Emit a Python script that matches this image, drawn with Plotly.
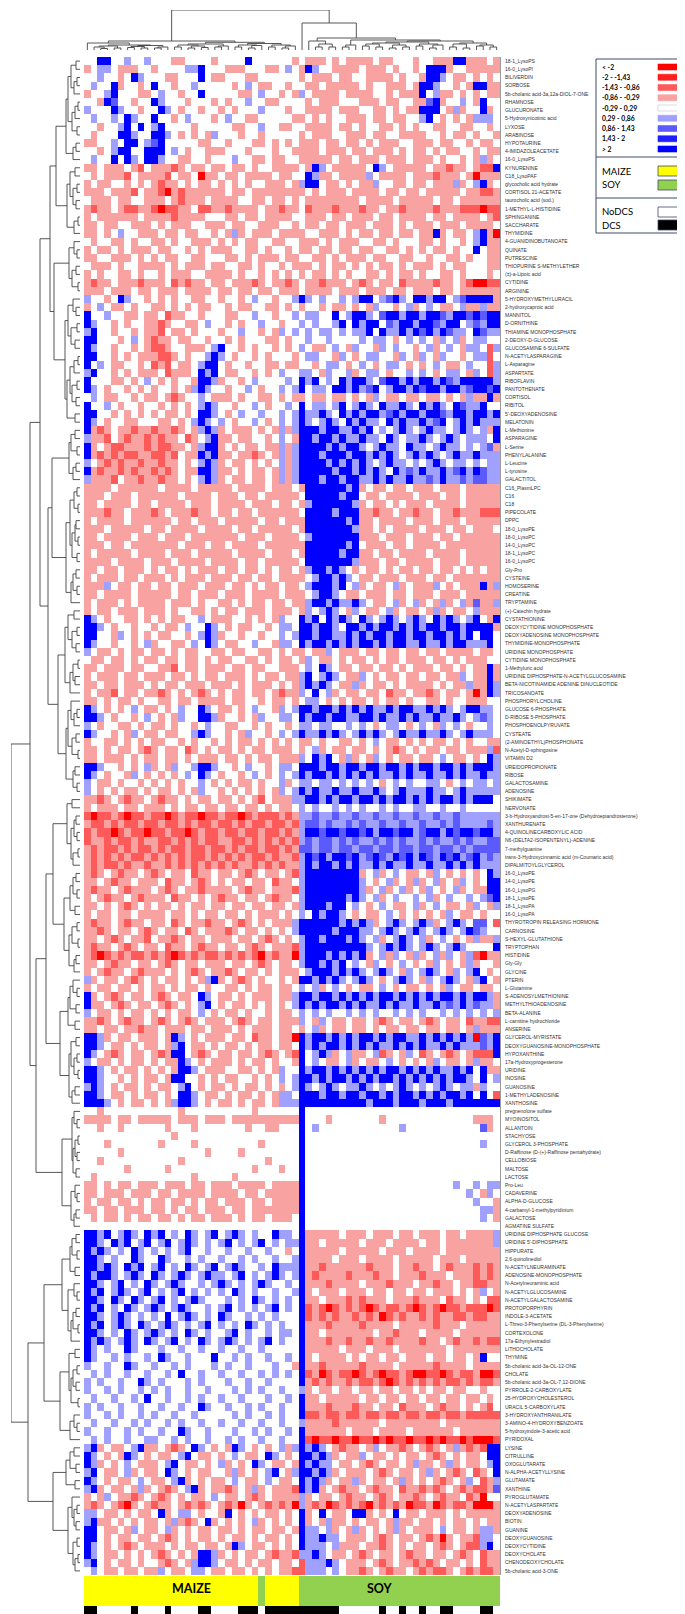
"""
Heatmap metabolit MAIZE vs SOY (z-score) dengan dendrogram baris dan kolom.
Output: out.html
"""
import plotly.graph_objects as go

W, H = 685, 1614

ROW_LABELS = [
    "18-1_LysoPS", "16-0_LysoPI", "BILIVERDIN", "SORBOSE", "5b-cholanic acid-3a,12a-DIOL-7-ONE",
    "RHAMNOSE", "GLUCURONATE", "5-Hydroxynicotinic acid", "LYXOSE", "ARABINOSE",
    "HYPOTAURINE", "4-IMIDAZOLEACETATE", "16-0_LysoPS", "KYNURENINE", "C18_LysoPAF",
    "glycocholic acid hydrate", "CORTISOL 21-ACETATE", "taurocholic acid (sod.)", "1-METHYL-L-HISTIDINE", "SPHINGANINE",
    "SACCHARATE", "THYMIDINE", "4-GUANIDINOBUTANOATE", "QUINATE", "PUTRESCINE",
    "THIOPURINE S-METHYLETHER", "(\u00b1)-a-Lipoic acid", "CYTIDINE", "ARGININE", "5-HYDROXYMETHYLURACIL",
    "2-hydroxycaproic acid", "MANNITOL", "D-ORNITHINE", "THIAMINE MONOPHOSPHATE", "2-DEOXY-D-GLUCOSE",
    "GLUCOSAMINE 6-SULFATE", "N-ACETYLASPARAGINE", "L-Asparagine", "ASPARTATE", "RIBOFLAVIN",
    "PANTOTHENATE", "CORTISOL", "RIBITOL", "5'-DEOXYADENOSINE", "MELATONIN",
    "L-Methionine", "ASPARAGINE", "L-Serine", "PHENYLALANINE", "L-Leucine",
    "L-tyrosine", "GALACTITOL", "C16_PlasmLPC", "C16", "C18",
    "PIPECOLATE", "DPPC", "18-0_LysoPE", "18-0_LysoPC", "14-0_LysoPC",
    "18-1_LysoPC", "16-0_LysoPC", "Gly-Pro", "CYSTEINE", "HOMOSERINE",
    "CREATINE", "TRYPTAMINE", "(+)-Catechin hydrate", "CYSTATHIONINE", "DEOXYCYTIDINE MONOPHOSPHATE",
    "DEOXYADENOSINE MONOPHOSPHATE", "THYMIDINE-MONOPHOSPHATE", "URIDINE MONOPHOSPHATE", "CYTIDINE MONOPHOSPHATE", "1-Methyluric acid",
    "URIDINE DIPHOSPHATE-N-ACETYLGLUCOSAMINE", "BETA-NICOTINAMIDE ADENINE DINUCLEOTIDE", "TRICOSANOATE", "PHOSPHORYLCHOLINE", "GLUCOSE 6-PHOSPHATE",
    "D-RIBOSE 5-PHOSPHATE", "PHOSPHOENOLPYRUVATE", "CYSTEATE", "(2-AMINOETHYL)PHOSPHONATE", "N-Acetyl-D-sphingosine",
    "VITAMIN D2", "UREIDOPROPIONATE", "RIBOSE", "GALACTOSAMINE", "ADENOSINE",
    "SHIKIMATE", "NERVONATE", "3-b-Hydroxyandrost-5-en-17-one (Dehydroepiandrosterone)", "XANTHURENATE", "4-QUINOLINECARBOXYLIC ACID",
    "N6-(DELTA2-ISOPENTENYL)-ADENINE", "7-methylguanine", "trans-3-Hydroxycinnamic acid (m-Coumaric acid)", "DIPALMITOYLGLYCEROL", "16-0_LysoPE",
    "14-0_LysoPE", "16-0_LysoPG", "18-1_LysoPE", "18-1_LysoPA", "16-0_LysoPA",
    "THYROTROPIN RELEASING HORMONE", "CARNOSINE", "S-HEXYL-GLUTATHIONE", "TRYPTOPHAN", "HISTIDINE",
    "Gly-Gly", "GLYCINE", "PTERIN", "L-Glutamine", "S-ADENOSYLMETHIONINE",
    "METHYLTHIOADENOSINE", "BETA-ALANINE", "L-carnitine hydrochloride", "ANSERINE", "GLYCEROL-MYRISTATE",
    "DEOXYGUANOSINE-MONOPHOSPHATE", "HYPOXANTHINE", "17a-Hydroxyprogesterone", "URIDINE", "INOSINE",
    "GUANOSINE", "1-METHYLADENOSINE", "XANTHOSINE", "pregnenolone sulfate", "MYOINOSITOL",
    "ALLANTOIN", "STACHYOSE", "GLYCEROL 3-PHOSPHATE", "D-Raffinose (D-(+)-Raffinose pentahydrate)", "CELLOBIOSE",
    "MALTOSE", "LACTOSE", "Pro-Leu", "CADAVERINE", "ALPHA-D-GLUCOSE",
    "4-carbamyl-1-methylpyridinium", "GALACTOSE", "AGMATINE SULFATE", "URIDINE DIPHOSPHATE GLUCOSE", "URIDINE 5'-DIPHOSPHATE",
    "HIPPURATE", "2,6-quinolinediol", "N-ACETYLNEURAMINATE", "ADENOSINE-MONOPHOSPHATE", "N-Acetylneuraminic acid",
    "N-ACETYLGLUCOSAMINE", "N-ACETYLGALACTOSAMINE", "PROTOPORPHYRIN", "INDOLE-3-ACETATE", "L-Threo-3-Phenylserine (DL-3-Phenylserine)",
    "CORTEXOLONE", "17a-Ethynylestradiol", "LITHOCHOLATE", "THYMINE", "5b-cholanic acid-3a-OL-12-ONE",
    "CHOLATE", "5b-cholanic acid-3a-OL-7,12-DIONE", "PYRROLE-2-CARBOXYLATE", "25-HYDROXYCHOLESTEROL", "URACIL 5-CARBOXYLATE",
    "3-HYDROXYANTHRANILATE", "3-AMINO-4-HYDROXYBENZOATE", "5-hydroxyindole-3-acetic acid", "PYRIDOXAL", "LYSINE",
    "CITRULLINE", "OXOGLUTARATE", "N-ALPHA-ACETYLLYSINE", "GLUTAMATE", "XANTHINE",
    "PYROGLUTAMATE", "N-ACETYLASPARTATE", "DEOXYADENOSINE", "BIOTIN", "GUANINE",
    "DEOXYGUANOSINE", "DEOXYCYTIDINE", "DEOXYCHOLATE", "CHENODEOXYCHOLATE", "5b-cholanic acid-3-ONE",
]

# satu string per metabolit (62 sampel, blok 10); kode bin z-score:
# R <-2 | r -2..-1,43 | m -1,43..-0,86 | p -0,86..-0,29 | . netral | q | n | b | B >2
HEAT_ROWS = [
    "..BB..q..q ...pp....p ....B..... .p.ppp.p.p ppp.pp...p ..pppBBppp .p",
    "p.qq.ppp.. p....qqB.. .ppp...pp. q.pBq..ppp p.ppp.p..p .BBBp..ppp pp",
    "..q..p.Bq. ..pp...B.p p...pp.... ..p.ppp.pp ..pppp.p.. pBBq.pp.p. p.",
    ".q..Bp..p. B..p..q... ..p.q.pp.. p..pp.pppp p.p..ppp.p BBq..p.pBB pp",
    "p..qB...pp .q..p..B.. ...pp.q..p .pq.pppp.p ppp..p.ppp B.qpp.p.p. pp",
    "..pBn..p.. Bq...p...p .p..q..pp. ...p.ppp.. .ppp.pp..p pnBp..q.pB ..",
    "q...Bq..p. .Bq.p..p.. p.p...q... p..pppp.pp p..pp.p.pp BBB.pqp..B p.",
    ".q..q.Bq.. B..p.q...p .q..pp.... .pp.p.p..p pp.pp.pp.. qB.p.p.pqq q.",
    "..p..qB.B. qB....p... ..pp..q..p p..pppp.pp .p..pp.p.p ..pp..pp.. p.",
    ".p...BBq.. BBq.p.p.pq ...p..p... ..p.ppp..p pp.pp..ppp p..p.pp.p. .p",
    "pp..q.BB.q nB.....pp. .p...pp.p. p.ppp.pp.p p.p.ppp..p pp.pp..p.p p.",
    "..p.qBB..B BB.q.p..pp p...p...p. .pppp.ppp. pp.ppp.p.p p.p.pp..p. pp",
    ".q..B.Bq.B Bq..pp..p. ..q..pp.pp ..ppppp.pp .ppp.ppp.p pp.p..p.pq p.",
    "pp.ppp.pm. pppmp.pp.p p.pp.p..pp pp.pBq.ppp pp.Bq.pppp p.ppmpp.pm mB",
    ".p.pppm.pp ppm.pp.Rpp .pp.pppp.p p..Bqpp.pp ppq.pppp.p ppmppp.pRp pp",
    "p.pp..p.p. pmpp.p.pp. p.p.p..ppp .pqBB.pp.p .ppq..pp.p p.pppqp.qB p.",
    "ppp.pppm.p pmRpmppppp p.pp.ppppp ppp.p.ppp. pppp.pp.pp .ppppp.ppm mp",
    ".ppp.pp..p pp.pmppp.p ppp..pp.pp .p.ppppppp p.pppp.ppp pp.pp.pppp pp",
    "pmpp.pmmpp mRmmpp.mmp pmpppp.ppm pp.mpppmpp pmpp.ppmpp ppmpppmmmR mm",
    "p.pppppp.p pppmpppp.. .pp.pp.ppp p..ppp.pp. ppp.pp.ppp p.pp.pppp. pm",
    "pp.pp..ppp .p.ppp..pp p.pp..ppp. .p.pp.pp.p pp.ppp.p.p pp.ppp.ppp p.",
    "pp.p.q..pp p.pp.pp..p .pqp.ppp.p ppp..ppp.p .pp.pp.pp. ppBp.pp.qB pR",
    ".p..pp.p.. pp.p..ppp. p.p.pp..pp ..ppp.p.pp p..pp.p... pp.p..p.qB pp",
    "p.pp.p.ppp .pp..p.p.p pp..pp.p.. p.pp.pp.pp .pp..pp.p. p.pp.p..B. pp",
    "pp..ppp.p. p.pp..pp.. .pp.p.ppp. pp..pp.p.p pp.pp..pp. .p..pp.p.. pp",
    ".ppp.p..pp pp.p.ppp.p p..pp.p..p .ppp.p.pp. p.p.pp.p.p pp.p.pp... pp",
    "p.p..pp.p. .p.ppp..pp pp.p..p.p. p.p.pp.p.p ..pp.p.pp. p..pp.p... p.",
    "pmpp.pppmp pp.mpmpp.p p.pppmp.pp mp.ppmppp. pmp.pp.mpp ppmpp.pmRR mm",
    "ppp.ppp.pp .ppp.pppp. pp.pp.pp.p pp.pppp.pp p.ppp.pp.p pp.pp.pppp pp",
    "q..p.Bq..p .p.p..pp.. p..p.q..p. .qBq.q..q. qBB.qnBq.B BqBB.qnBBB Bp",
    "p.q.pp.p.. pp.p.p.pp. .p.pp..pp. p.p..p.pp. p.pq..p.qp .q.pp.qppq pp",
    "B..q..pp.p p.mpp..p.. .pp..q..p. .q.qq..B.q BBq.nBBqBB qBBnqBBnBn BB",
    "Bq..p.p..p pmp..pp.q. .p.p..q..p ..q.q..qB. BqBB.nqBBq BBnqBB.qnq BB",
    "qB..p..p.p pm.pp.p... p..q..p.pq .q.q.qq.q. qqB.BqqBqB nBqBnqq.Bn qq",
    "BB...p.q.p mpp.pp..p. .p.p...pp. p..q..q... .q.qq.p.q. q.pq.qp.qq ..",
    "Bq..p..p.p mmp..ppp.q B..p.p..p. p.q.pp.q.p q..pq.q..p .qp.q.pqq. mq",
    "BB..p.p.pp pmmp.p..qB q.p..p.p.. .p.qq..pq. p.qq..pq.p q.pq..p.qq m.",
    "B.q.pp..p. mpm.pp.qBB .p..p..pp. pp..p.qq.p .q.p.qq.p. p.q.pp.q.. mq",
    "qB..p.p.pp p.mppp.BqB .pp..p.p.q ..qq.pq..q p.qq.p..q. q.p.qq.pq. mq",
    "B...pp.p.q .p.p..pBBq p..p.q.... q.BqB.q.Bq BBq.nBBqBq BBqBnqBBBB Bq",
    "Bq.p..p.p. p..p.pqBq. .p..q.p..q .qB.qq.BBq BqnB.qBBqB nBBqBBqnBB nB",
    ".q.pp..p.p p.pmp..q.p pp.p..pp.p .pp.pp.pp. p.pq.pp.pp .pp.p.pqpp Bp",
    "B..q.p..p. .p.p.p.qBq ..p..q.p.. q.B.qq.qB. qBq.BqqBq. BqBq.BnqqB ..",
    "BB..p.p.p. p.pp.p.BBq .p.q..q..q .qBqqBq.Bq BqBBqnBqBB qBBnqBBqBB qB",
    "Bq.p..pp.. .pp.p.qBq. q.p..q.p.q .qBq.qBq.B qBqq.BqBqq BqnB.qBqBq qq",
    "Bpmp.ppmpp mppmp.pqBq p.ppp.p.pq pqBBBqBBqq BqB.q.qBq. qBqq.qBq.q pB",
    "qppm.pmppm pmpp.mp.qB pp.pp..p.q .pBBqBBqBq qBqq.Bq.qq Bq.qBq.qqq .B",
    "Bp.pmmpppm pmmpp.pqBB p.p.pp.ppq pqBBBBqBqB Bq.qBqq.Bq q.qBqq.q.q np",
    "Bpmpmpmmpp mmpm.ppBqB pp.ppmp.pq pqBBBqBBBq BBqBqBq.qB qBq.qBqqBq qq",
    "q.pmpmppmp pmpp.p.qBq p.pp.p.p.q pqBBBBqBqB qBq.qBqq.q .qBq.qq.q. qq",
    "Bpmppmpmpp mpmp.ppBBq pp.p.pp.pq pqBBBBBqBB qBqBq.Bqnq BqqBqnBqBn qq",
    "qpppm.ppmp pmpp.p.qBq p.pp.pp.pq pqBBBqBBqB BqqBqBqqBq qnqBqqnqnn qq",
    "pppp.ppppp p.pppp.ppp pp.pppp.pp p.pBBBBBBq Bp.pp.pp.p pp.ppp.ppp pp",
    "ppp.ppp.pp pppp.pppp. ppp.pp.ppp pp.BBBBBqB B.pp.pppp. ppp.pp.ppp pp",
    "pp.pppp.pp .pppp.ppp. pppp.ppp.p p.pqBBBBBB qp.pp.p.pp p.pppp.ppp pp",
    "pppmpp.ppp mp.pppmpp. pp.pp.pppp pp.BBBBqBB Bppmpp.ppm pp.ppmpppm mm",
    "p.pppp.ppp ppp.pp.ppp .ppppp.pp. pppBBBBBBq Bpp.pppp.p pp.ppp.ppp pp",
    "ppp.ppppp. pp.pppp.pp pp.pp.pppp p.pBBBBBBB qpp.p.pppp .ppp.pp.pp p.",
    "pp.pppp.pp p.ppp.pppp ppp.ppp.pp pp.qBBBBBB Bppp.ppp.p pp.pp.pppp pp",
    "ppp.pp.ppp pppp.ppp.p p.pppp.ppp pppBBBBBBq B.ppp.pp.p ppp.pppppp pp",
    "p.ppppp.pp pp.ppp.ppp pp.pppp.pp p.pBBBBBqB Bpp.pp.ppp p.pppp.ppp pp",
    "pppp.pppp. ppp.pppp.p ppp.pp.ppp pp.BBBBBBB qppp.pp.pp pp.ppp.ppp pp",
    "pp.pp.ppp. p.pp.p.ppp .pp.pp.p.p p.pqBBqBq. p.pp.p.pp. pp.pp.p.p. pp",
    "p.ppp.pp.p pp.p.ppp.p pp.pp.pp.p ppp.qBBqBq .pp.ppp.pp p.pp.ppppp pp",
    "pppq.pp.pp .pp.ppp.pp p.pp.p.pp. pp.qBBBqB. qp.pp.qp.p ppq.p.pppB pq",
    "pp.pppp.pp ppp.pp.ppp .ppp.pppp. ppp.qBBq.p p.ppp.pp.p pp.ppp.ppp pp",
    "p.ppp.p.pp pp.ppp.p.. pp.p.pp.pp .ppqBBqBqq Bq.pp.qp.q p.pqp.qpnp pq",
    "p.pp.ppp.p pp.p..pp.p .pp.ppp.pp p.pq.qBq.p q.pp.qp.pp .pqp.pp.qp pp",
    "Bq.p..pp.p .p.pp..q.p pp..p.p.pq ..BqB.BqBq .Bq.qBq.qB q.BqBq.qB. pB",
    "BBq.p..p.. p.pp.q..Bq .p.pp..p.q q.BBqBBq.B BqBqBBqBqB qBBqBBqBBB Bp",
    "BB..pq.p.p .pp..p.qBq p..p..p..q .qBBqBBqqB qBqBBqBBqB BqBBqBqB.B B.",
    "Bq..p..p.q p..pp.q.Bq .pp..q..pq q.BqBBqBqB qBBqBqBBqq BqqBqBBqqq B.",
    "q.pp.p.pp. pp.p.pp..p p.pp..pp.p .pp.ppq.pp p.pp.pp.pp .pp.pppp.p p.",
    ".pp.pp.p.p p.pp.pp.p. pp..pp.p.p p.pq.pp.p. pp.p.pp.pp p.pp.p.ppp ..",
    "pp.ppp.pp. .ppm.pp.pp p.pp.pp..p pp.q.Bq.pp .pp.pp.p.p pp.pp.p.pp Bp",
    "p.ppp.pp.p pp.pp.p.pp .ppp.p.pp. ppqB.qBq.p pq.p.pp.pp .pp.ppq.pp Bp",
    "pp.pp.ppp. p.pp.ppp.p pp.p.ppp.p .pqBqBq.pp qp.pp.p.pp pp.p.ppqpp Bq",
    "p.ppm.pp.p pmp.p.pmp. p.pp.pp.pm ppq.B.qp.p p.pp.mpp.p pmp.pp.pRp Bq",
    "pp.p.pp.p. .pp.pp.ppp p.pp..p.pp .p.qq.p.p. pp.p.pp.p. .pp.p..ppp ..",
    "Bq.p.p.q.p p.p.q..Bq. pp.p.q..pq .qBBqBBqBq BqBqqBqBBq qBqBq.qBBq q.",
    "BBq.p..p.q .p.pq..BBq p..p.pq..q q.BqBBqBBq qBBqBqqBqB qqBqqBq.qn q.",
    "q.p..pp.p. pp.p..p.q. .pp..p.p.. p.qq.qq..q .q.p.qq.p. q.pq.q.p.. q.",
    "Bq..p.pq.p p.pp..qBq. .p.pq..p.q .qBqqBqBq. qBqBq.qBqq BqqBq.qBqq q.",
    "p..pp.p.p. pp..p.p..p .p.pp.p.p. p.pp.p..pp .p.q.pp.p. p.pp.p.p.. pp",
    "pp.p.pp.pm p.pp.mp.p. pp.p.pp.pp p.p.qp.pp. pp.p.pmp.p .pp.pp.ppp qm",
    "pp.ppp.p.p p.pp.p.ppp .pp.p.pp.p ppq.BqB.pq p.pq.p.pp. pp.q.pp.p. Bq",
    "BBq..p.p.q p.pq..qBBq ..p.q..p.q q.BBBqBBqB BqBBqBBqBq BBqBBqBqBB Bq",
    "Bq.p..pq.p .p.p.q.Bq. p..p.q.p.q .qBqBBqBqB qBqBqqBqBq qBqqBqBqqB qq",
    "q.pp.p..p. p.p.p..q.p .p.pp.p..q p.qq.qq.q. q.q.p.q.q. .qq.p.q.qq .q",
    "q.p.p.pp.p .pp.p.pq.. p.p.p.p.pq .qBqBqqBqq BqqBq.qBqq qBqq.qBqqq qq",
    "ppmp.pmpp. pmpp.p.pp. pp.p.pm.pp pqqBBqBqBB qBBqBqBBqB qBqBBqBqBB B.",
    "p.ppp.pp.p pp.p.pp.pp .pp.pp.p.p p.q.q..q.q .q..q.q..q q..q..q... ..",
    "mRmmpmRmmp mmRmpmmRmm pmmRmpmmmp mpqqnqqnqq nqqnqqnqqn qqnqqnqqqq qq",
    "pmmpmpmmpm mpmmpmpmmp mmpmpmmpmm pmqnnqnqqn qnqqnqqnqq nqqnqnqqqq nq",
    "mpmmRmpmmR mmpmmRmpmm pmmpmmpmmp mpqBBnBBnB BnBqBBnBBq nBBqBnBBnB Bq",
    "mppmpmmpmp pmmpmpmpmm ppmmpmpmpm pmqnqnnqnq nqqnqnqnqq nqnqqnqnqq nn",
    "pmpmmpmpmm pmpmmpmmpm mpmpmmpmmp mpnnqnnqnn qnnqnnqnnq nnqnnqnqnn nn",
    "pmpmpmpmmp mpmpmpmmpm pmpmpmmpmp pmqBnBqBBn BqnBnqBnBq BnqBnBqnBq nq",
    "pmpmmpmppm ppmpmpmpmp mpmppmpmpm ppqBqBBqBq BqqBqBqqBq qBqqBqBqBq qq",
    "pmp.pmpp.p mp.pp.mpp. pp.pmp.pp. pmqBBBBBBB Bp.qp.q.pp .pq.p.p.p. Bq",
    "pp.pmpp.pp p.mpp.pmp. p.pp.pp.mp p.qBBBBBBB Bq.p.qp.pq p.qp.pq.p. BB",
    "pmpp.pmppp .pmp.ppmpp pp.pmpp.pp pmqBBBBBBB Bqp.qp.qp. pq.p.qp.pp BB",
    "p.pmpp.pmp pp.mpp.p.p mpp.pp.pmp p.qBBBBBBq Bq.qp.q..q .qp.q..q.q nB",
    "pp.p.pmp.p .pp.p.pp.p p.pp.pp.pp .pqBBBqBB. q.p.q.pp.q p.q.pp.pq. pq",
    "p.pp.pp.pp pp.pp.p.pp .pp.p.ppp. p.q.BqBBq. p.pp.q.p.p .p.pq.pp.p ..",
    "pmpp.pmpp. pp.mp.ppmp p.pmp.p.pp pqBBBBBBqB qBqp.qBq.q Bqp.qBq.nn .m",
    "ppmp.pp.pm p.pp.mp.pp pmp.pp.p.p .qBBBBBqBB Bqq.qBq.qB q.qBq.qBnq ..",
    "pp.pmp.ppm .ppmp.pp.p pp.pp.pmp. p.qBBqBBBq Bq.qp.qBq. qp.q.p.pqp pq",
    "pmpp.pmp.p p.mpp.pmpp .pp.pmp.pp pmqBBBBBBB BBq.qBqBq. qBq.qBq... .B",
    "pmRmpmpmmp mpmRmpmpmm pmpmpmRpmp pRqBBBqBqB qBp.qpq.pq p.qpq.pqmR pp",
    "pp.pmpp.pp .pmp.pp.pp p.pp.pmp.p p.qBBqBqB. q.pq.p.q.p .pq.p.pqp. .p",
    "p.pmpp.pmp pp.p.pmp.p pmp.pp.p.p pp.qBBBqBq Bq.qBq.pq. qBq.pq.qB. p.",
    "qp.pp.pmp. p.pp.p.pqB p.pmp.p..p .pBBqBqBq. qBq.p.qBq. pq.qBq.pqB .p",
    "p.pp.pp.p. pp.p.pp.p. .pp.p.pp.p p.q.qp.q.p .pp.q.p.pp .p.pq.pp.p p.",
    "Bp.pmp.pp. pmp.pp.Bq. pp.p.ppp.p pqBBqBBqBq BqBqBBqBqB qBqBBqBqBB qp",
    "Bpp.pmp.pp .pmp.p.qB. p.pp.p.p.p .qBqBqBBqB qBqqBqBqqB qqBqnqBqnq qp",
    "q.pp.p.pp. p.p.pp.q.p .pp.p..p.p p.q.q.q..q .q.q..q.q. q..q.q.q.q .q",
    "ppmp.pmpp. pmp.pmp.pp p.pmp.pp.p ppq.pq.pp. pp.pmp.pp. pmp.pp.mpp mm",
    "pp.pp.ppmp p.ppp.pp.p pp.p.ppp.p p.p.qp.pp. pp.p.pp.pp .pp.pp.pqp pp",
    "BBqp.pp.pp p.pBq.p.pp p.pp.mpp.p pRBqBBqBqB qBBqBqBBqq BqBqBqBqRn qB",
    "BBq.pp.p.p p.pqB.pp.p .pp.p.pp.p p.BqBqBBqB qBqBqqBqBq BqqBqBqqqn qB",
    "Bq.pmp.pp. pmpBB.pmp. pp.pp.pmp. pmB.qBqp.q pp.qmp.pq. mp.pmp.pmm mB",
    "q.pp.p.pp. p.ppBq.p.p pp.p.pp.p. .pB.q.pp.q p.pp.q.p.p .pq.pp.pqp p.",
    "BBq.p.pp.p .p.pBBq.pp p..pp.p.pq ..BqBBqBqB qBqBqBBqBq BqBqqBqB.B pp",
    "BBq..p.p.p p.pBB..p.p .pp..p.p.q .qBBqBqBBq BqBqBBqBqB qBqBqBBq.B .q",
    "qBq.p.pp.p .pp.qB.p.p p.p.pp.p.p .qBq.qBq.q qBq.q.qBq. q.qBq.qqpq ..",
    "BBq.pp.p.p p.p.BBq.pp .p.pp.p.pq q.BBBqBBqB BqBBqBqBBq BqBqBBqB.B .m",
    "BBBq.p.pp. p.pqBBq.p. pp.p.pp.pq qqBBBBBBBB BBqBBBqBBB qBBBqBBBBB BB",
    "..p....... ....p..... .....p.... ..B....... .......... .......... ..",
    "pppp.pp.pp ppp.ppp.pp p.pppppppp ppB...p... ....p..... ........pp p.",
    "..p..p.... ..p...p... ....p..pp. ..B.q..... .......q.. .........n p.",
    ".......... ...p...... .......... ..B....... .......... .......... ..",
    "...p...... .p....p... ......p... ..B....... .......... .........q ..",
    ".....p.... ........p. ...p...... ..B....... .......... .......... ..",
    "..p....... ....p..... .......p.. ..B....... .......... .......... ..",
    "......p... ..p....... .....p...p ..B....... .......... .......... ..",
    ".p........ ......p... ..p....... ..B....... .......... .......... ..",
    "pp.p.pp.pp p.ppp.pp.p pp.pppp.pp ppB....... .......... .....q..q. qq",
    "pp.ppp.ppp .pp.pppp.p ppp.pp.ppp ppB....... .......... .......q.p q.",
    "p.pp.pp.p. pp.pp.p.pp .ppp.pp.pp ppB....... .......... ........q. .p",
    "pp.pp.ppp. pp.p.pp.pp p.pp.ppppp ppB....... .......... .........q qp",
    ".p.pp.p.pp .pp.p.pp.p pp.p.pp.pp p.B....... .......... .........q .p",
    ".......... .......... .......... ..B....... .......... .......... ..",
    "BBqB.qBq.B qB.q.Bq.qB .qBq.q..Bq q.Bppppp.p pp.ppp.pp. ppp.pp.ppp pq",
    "BBq.BqB.qB .qB.qBq.q. qB.q.qB.q. qqBpp.pppp p.ppp.pppp .pp.pppppp pq",
    "BqBq.q.Bq. q.q.qB..q. .q..q..q.. p.Bppppp.p pppp.ppp.p ppp.pppppp pp",
    "BBq.q..Bq. .Bq..q.q.. q..q.q..q. .qBpppp.pp p.pppp.ppp pp.ppp.ppp pp",
    "BBqBq.BqB. qB.q.Bq.qB .qBq..q.Bq qqBppmpppp ppmppp.ppm pp.pmpppmp mp",
    "BqBBq.qBq. Bq.qBq.qBq q.qB.q.qBq .qBpmppppm pppmpp.ppp mppp.pppmp mp",
    "BBq.qB.q.B q.qBq..q.q Bq.q.qBq.. q.Bpppmppp p.pppmppp. ppmpp.ppmm pp",
    "BqB.qBq.qB .q.qB.q.q. q.Bq.q..q. .qBp.ppp.p pp.pp.pp.p p.ppp.p.pq .p",
    "BBq.Bq.Bq. qB.q.qBq.. .q.q.Bq.q. q.Bpp.pppm pmppp.pppm ppp.mpp.p. mm",
    "BqB.q.Bq.q Bq.qBq..q. qB.q.q.qB. q.BmpmRmpm pmRmpmmpmR mpmRmmpmmm Rm",
    "BBq.qBq.q. q.B.qBq.q. Bq..q.q.q. ..Bmpmpmpp mpmpRmpmpp mpmppmmpmm pp",
    "BqB.qBq.Bq .qBq.q.qB. q.q.Bq.q.q ..Bpppmppp pmpppp.ppp ppmppp.ppp pp",
    "BBq.q.Bq.q Bq.q.Bq.q. .qB.q..q.q q.Bpp.pppp ppp.ppmppp .pppp.pppp pp",
    "BqBq.qBq.B q.qB.q.Bq. qBq.q.qB.q ..Bpppmppm ppmppmpppp mpp.pmppmp mm",
    "Bq.q..Bq.. .q..q..q.. q..q..q... ..Bppppp.p pp.ppp.ppp pppp.ppppp pp",
    "Bq..q.q..q .Bq..q...B ..q.q..q.. q.Bp.pppp. p.pp.pp.pp p.pp.pp.pB ..",
    "q..q..Bq.. q..q.q...q .q..q...q. .pBppmpppp pmpppp.ppp ppmpppp.pp pp",
    ".q.q..q..q ..q.B..q.. q..q..q.q. q.BmpRmpmm RmpmRmmpmR RmmRmpmmpR Rm",
    "q.q..q..Bq .q...q.q.. .q..q..q.. ..Bpmpmppm pmmpmRmpmp mpmpmmpmpm mp",
    "q..q.q..q. q.q..q..q. ..q.q.q..q ..qp.pp.pp .pp.pp.pp. p.pp.pp..p ..",
    ".q..q..q.B ..q..q.q.. q..q...q.. q.Bpp.pppp p.pp.pp.pp .pp.pp.pp. p.",
    "q.q..q..q. .q..q..Bq. .q..q.q..q ..Bpppmppp mpp.pp.mpp p.pmpp.p.p m.",
    "q..q.q..q. q..q..q... ..q.q..q.q ..Bmmpmmpm mpmmpmmpmm pmmpmmpmmm mm",
    ".q..q..q.q ..q.q..q.. q..q..q..q ..qppppmpp pppp.ppppp ppp.pppppp pp",
    "q..q..q.q. .q..Bq..q. ..q..q.q.. q.Bpppppp. ppp.pppp.p ppppp.pppp pp",
    ".q.q..q..q q..q.q..q. .q.q..q..q ..BmRmmRmm RmmRmRmmRm mRmRmmRmRR Rm",
    "qBp.pp.qBp p.pmp.Bq.p .pBq.p.p.q pqBqBq.pmp p.pq.ppmp. pmp.pqpmpm BB",
    "Bq.p.pBq.p .pp.qB.pp. p.q.pp.Bq. p.BBqBqp.p pq.pp.p.pp .pmp.p.pp. BB",
    "Bqp.p.q.pp p.qB.pp.p. qp.p.Bq.pp .pBqBqq.pp .pmp.pp.pq pp.pqp.pp. qB",
    "qB.pp.qp.p p.Bq.p.pp. .pqp.p.qB. pqBBqBqp.p pp.pmp.pp. pqp.pmp.mp .B",
    "Bq.p.pp.q. pp.qBp.p.p p.q.pp.q.p p.BqBqp.pp qp.pp.pqp. p.pmp.pq.m pq",
    "qBp.pp.pqp .pmp.qBp.p pmp.pqp.pp pmBqBp.pmp p.pmpp.mpp mpmp.pmpmm pn",
    "p.pq.ppmp. pmp.p.pp.q .pp.pmp.pp ppqp.pp.pm pp.pmp.ppm p.pmpp.mpR ..",
    "pmp.pmRp.p mpp.pmpmp. pmpRp.pmpm pRqpmpRmpm pmRpmpmpRm mpRmpmmpRR Rp",
    "qq.pp.p.pp .Bp.qq.p.. pB.p.p.pp. p.Bp.B.pp. BBp.p.B.pp .ppp.p.ppp pp",
    "qBpp.p.p.p p.pqpmp.Bp .p.p.qp.p. p.Bp.pqpp. p.pp.pqpp. pp.p.pp.p. pp",
    "BB.pp.pq.p p.qp.p.pp. pp.p.pp.pp .pBqq.qp.p qp.p.pqp.p pp.q.pp.pq qp",
    "BB.p.pp.pp .pmp.p.pp. p.pp.p.pp. p.BqqBqq.p pp.pmp.pp. pmpRp.ppmq q.",
    "Bq.p.pmp.p pp.p.pp.pp .pBq.pp.p. p.Bqqq.qpp p.ppmp.p.p p.pmp.pmmq B.",
    "Bq.pp.p.p. pmp.p.pBBq p.p.pp.pmp pmqqBq.pp. pmp.pp.pmp p.pp.pmp.m pp",
    "qB.p.pp.p. .pmp.pqBBq .pp.p.pp.p p.mqqqBq.p pp.pmp.ppm pmp.pp.p.m pp",
    ".q.pp.pp.p pq.pp.qq.p p.pp.p.p.p pmmqqq.q.p pmp.pmpp.p mpmmp.pmpm mp",
]

# kelompok pakan (M = MAIZE, S = SOY) dan status DCS per sampel
SAMPLE_GROUP = "MMMMMMMMMM MMMMMMMMMM MMMMMMSMMM MMSSSSSSSS SSSSSSSSSS SSSSSSSSSS SS"
SAMPLE_DCS = "1100000100 0010000110 0001110111 1111111100 0000100100 1001100001 10"

# tinggi penggabungan antar sampel bertetangga (dendrogram kolom)
COL_MERGE_HEIGHTS = [
    7, 3, 1.5, 4, 2, 5, 2.5, 3.5, 2, 4.5, 2, 3,
    9,
    3, 5, 2, 4, 2.5, 6, 3, 4, 7.7,
    3, 5, 2, 4.5, 6.5, 3, 5, 2, 4,
    40,
    27,
    9, 3, 6, 3,
    12,
    3, 5, 10, 4, 6, 3, 7, 2, 5, 3, 8, 4, 6, 2, 5, 9, 3, 6, 2, 7, 4, 5, 3,
]

# tinggi penggabungan antar metabolit bertetangga (dendrogram baris)
ROW_MERGE_HEIGHTS = [
    4, 9, 3, 6, 12, 2, 5, 8, 3, 14, 4, 7,
    24,
    5, 10, 3, 7, 4, 13, 2, 6,
    30,
    6, 3, 11, 4, 8, 2,
    26,
    7, 4, 12, 3, 9, 5, 15, 2, 6, 10, 3, 8, 4, 13, 5,
    40,
    5, 9, 3, 11, 4, 7,
    28,
    3, 6, 2, 10, 4, 5, 2, 8, 3, 14, 4, 7, 3, 9,
    32,
    6, 12, 3, 8, 4, 15, 2, 7, 5, 10,
    22,
    9, 3, 6, 12, 4, 8, 2, 14, 5, 7, 3,
    50,
    8, 13, 4, 6, 3, 9, 2, 7,
    27,
    4, 7, 3, 10, 5, 16, 3, 8, 2, 11, 4, 6,
    34,
    7, 3, 10, 4, 12, 5,
    20,
    4, 9, 3, 6, 2, 11, 5, 8,
    44,
    6, 3, 8, 2, 5, 3, 7, 4,
    18,
    5, 3, 9, 4, 6,
    69,
    4, 8, 3, 10, 5,
    18,
    6, 3, 12, 4, 7, 2, 9,
    36,
    5, 11, 3, 7, 4, 9, 2,
    20,
    6, 3, 10,
    52,
    6, 10, 4, 14, 5,
    27,
    8, 3, 6, 4,
    12,
    3, 7, 2, 5,
]

BIN_CODES = "Rrmp.qnbB"
LEGEND_BINS = ["< -2", "-2 - -1,43", "-1,43 - -0,86", "-0,86 - -0,29", "-0,29 - 0,29",
               "0,29 - 0,86", "0,86 - 1,43", "1,43 - 2", "> 2"]
BIN_COLORS = ["#FF0000", "#FF1E1E", "#FF5A5A", "#F9A2A2", "#FFFFFF",
              "#A0A0FF", "#5A5AFF", "#1E1EFF", "#0000FF"]
GROUP_NAMES = ["MAIZE", "SOY"]
GROUP_COLORS = ["#FFFF00", "#92D050"]
DCS_NAMES = ["NoDCS", "DCS"]
DCS_COLORS = ["#FFFFFF", "#000000"]

LINE_COL = "#3C4A68"


def px_x(px):
    return px / W


def px_y(py):
    return 1 - py / H


def clean_row(s, widths=(10, 10, 10, 10, 10, 10, 2)):
    parts = s.split()
    return "".join((p + "." * w)[:w] for p, w in zip(parts, widths))


def dendro_lines(heights):
    xs, ys = [], []

    def build(lo, hi):
        if lo == hi:
            return lo, 0.0
        k = max(range(lo, hi), key=lambda i: heights[i])
        h = heights[k]
        pl, hl = build(lo, k)
        pr, hr = build(k + 1, hi)
        xs.extend([pl, pl, pr, pr, None])
        ys.extend([hl, h, h, hr, None])
        return (pl + pr) / 2, h

    build(0, len(heights))
    return xs, ys


rows = [clean_row(r) for r in HEAT_ROWS]
n_rows, n_cols = len(rows), len(rows[0])
z = [[BIN_CODES.index(c) for c in r] for r in rows]
groups = clean_row(SAMPLE_GROUP)
dcs = clean_row(SAMPLE_DCS)

colorscale = []
for i, c in enumerate(BIN_COLORS):
    colorscale += [[i / len(BIN_COLORS), c], [(i + 1) / len(BIN_COLORS), c]]

fig = go.Figure()

# ── heatmap utama ─────────────────────────────────────────────────
fig.add_trace(go.Heatmap(
    z=z, x=list(range(n_cols)), y=list(range(n_rows)),
    colorscale=colorscale, zmin=-0.5, zmax=len(BIN_COLORS) - 0.5,
    showscale=False, hoverinfo="skip", xaxis="x", yaxis="y",
))

# ── dendrogram kolom (atas) ───────────────────────────────────────
cx, cy = dendro_lines(COL_MERGE_HEIGHTS)
fig.add_trace(go.Scatter(x=cx, y=cy, mode="lines", line=dict(color="#444", width=0.9),
                         hoverinfo="skip", xaxis="x2", yaxis="y2"))

# ── dendrogram baris (kiri) ───────────────────────────────────────
ry, rx = dendro_lines(ROW_MERGE_HEIGHTS)
fig.add_trace(go.Scatter(x=rx, y=ry, mode="lines", line=dict(color="#444", width=0.9),
                         hoverinfo="skip", xaxis="x3", yaxis="y3"))

# ── bar kelompok & DCS di bawah ───────────────────────────────────
fig.add_trace(go.Heatmap(
    z=[[0 if g == "M" else 1 for g in groups]], x=list(range(n_cols)), y=[0],
    colorscale=[[0, GROUP_COLORS[0]], [0.5, GROUP_COLORS[0]], [0.5, GROUP_COLORS[1]], [1, GROUP_COLORS[1]]],
    zmin=0, zmax=1, showscale=False, hoverinfo="skip", xaxis="x", yaxis="y4",
))
fig.add_trace(go.Heatmap(
    z=[[1 if d == "1" else None for d in dcs]], x=list(range(n_cols)), y=[0],
    colorscale=[[0, "#000000"], [1, "#000000"]], zmin=0, zmax=1,
    showscale=False, hoverinfo="skip", xaxis="x", yaxis="y5",
))

for gi, (code, name) in enumerate(zip("MS", GROUP_NAMES)):
    idx = [i for i, g in enumerate(groups) if g == code]
    fig.add_annotation(x=(min(idx) + max(idx)) / 2, xref="x", y=px_y(1590), yref="paper",
                       text=f"<b>{name}</b>", showarrow=False,
                       font=dict(family="Lato", size=12.5, color="black"))

# ── legenda kotak kanan atas ──────────────────────────────────────
shapes = [
    dict(type="rect", xref="paper", yref="paper", x0=px_x(588), x1=px_x(683),
         y0=px_y(225), y1=px_y(51), line=dict(color=LINE_COL, width=1)),
    dict(type="line", xref="paper", yref="paper", x0=px_x(588), x1=px_x(683),
         y0=px_y(149), y1=px_y(149), line=dict(color=LINE_COL, width=1)),
    dict(type="line", xref="paper", yref="paper", x0=px_x(588), x1=px_x(683),
         y0=px_y(190), y1=px_y(190), line=dict(color=LINE_COL, width=1)),
]
annotations = []

for i, (lab, col) in enumerate(zip(LEGEND_BINS, BIN_COLORS)):
    yc = 59 + i * 10.25
    shapes.append(dict(type="rect", xref="paper", yref="paper", x0=px_x(650), x1=px_x(679),
                       y0=px_y(yc + 3), y1=px_y(yc - 3), fillcolor=col,
                       line=dict(color="#C8C8C8" if col == "#FFFFFF" else col, width=0.6)))
    annotations.append(dict(x=px_x(592), y=px_y(yc), xref="paper", yref="paper", text=f"<b>{lab}</b>",
                            showarrow=False, xanchor="left", yanchor="middle",
                            font=dict(family="Lato", size=6.8, color="black")))

for names, cols, ys in ((GROUP_NAMES, GROUP_COLORS, (163, 177)), (DCS_NAMES, DCS_COLORS, (204, 217))):
    for lab, col, yc in zip(names, cols, ys):
        shapes.append(dict(type="rect", xref="paper", yref="paper", x0=px_x(650), x1=px_x(679),
                           y0=px_y(yc + 5), y1=px_y(yc - 5), fillcolor=col,
                           line=dict(color=LINE_COL, width=0.8)))
        annotations.append(dict(x=px_x(592), y=px_y(yc), xref="paper", yref="paper", text=lab,
                                showarrow=False, xanchor="left", yanchor="middle",
                                font=dict(family="Lato", size=9.5, color="black")))

for a in annotations:
    fig.add_annotation(**a)

hidden = dict(showgrid=False, zeroline=False, showticklabels=False, ticks="", showline=False)
heat_x = [px_x(76), px_x(492)]
heat_y = [px_y(1567), px_y(49)]

fig.update_layout(
    width=W, height=H,
    margin=dict(l=0, r=0, t=0, b=0),
    paper_bgcolor="white", plot_bgcolor="white",
    showlegend=False,
    shapes=shapes,
    xaxis=dict(domain=heat_x, range=[-0.5, n_cols - 0.5], **hidden),
    yaxis=dict(domain=heat_y, range=[n_rows - 0.5, -0.5], side="right",
               tickmode="array", tickvals=list(range(n_rows)), ticktext=ROW_LABELS,
               ticks="", showgrid=False, zeroline=False, showline=True,
               linecolor="#9A9A9A", linewidth=1, ticklabelstandoff=3, automargin=False,
               tickfont=dict(family="Liberation Sans", size=5, color="#333")),
    xaxis2=dict(domain=heat_x, range=[-0.5, n_cols - 0.5], anchor="y2", **hidden),
    yaxis2=dict(domain=[px_y(42), px_y(2)], range=[0, 40], anchor="x2", **hidden),
    xaxis3=dict(domain=[px_x(3), px_x(72)], range=[69, 0], anchor="y3", **hidden),
    yaxis3=dict(domain=heat_y, range=[n_rows - 0.5, -0.5], anchor="x3", **hidden),
    yaxis4=dict(domain=[px_y(1612), px_y(1568)], range=[-0.5, 0.5], anchor="x", **hidden),
    yaxis5=dict(domain=[px_y(1612), px_y(1598)], range=[-0.5, 0.5], anchor="x", **hidden),
)

fig.write_html("out.html")
